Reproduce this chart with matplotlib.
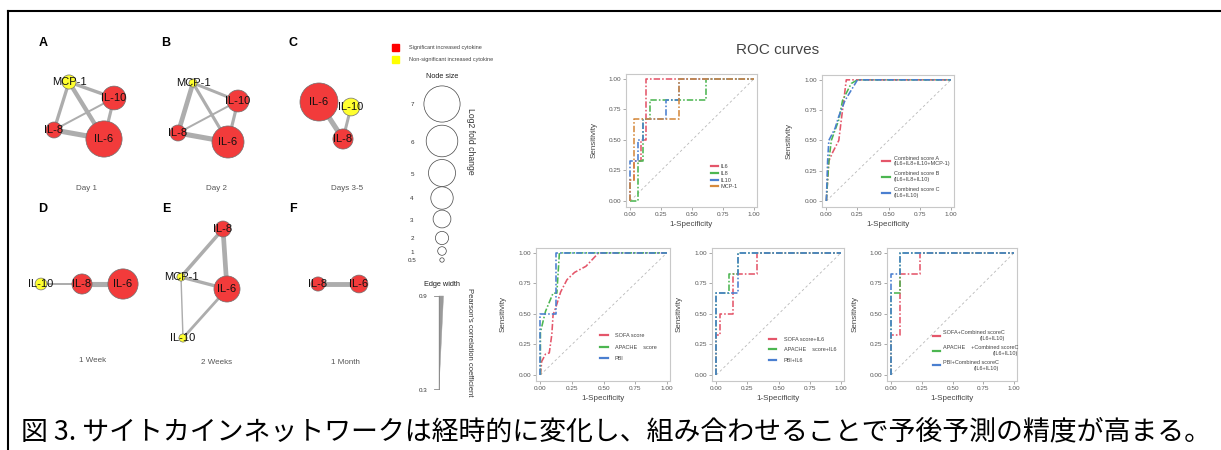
import matplotlib
matplotlib.use('Agg')
import matplotlib.pyplot as plt
from matplotlib.patches import Circle, Polygon, Rectangle
from matplotlib.lines import Line2D

plt.rcParams['font.family'] = ['Liberation Sans', 'DejaVu Sans']

# ---------------- data ----------------
panel_letters = ['A', 'B', 'C', 'D', 'E', 'F']
panel_titles = ['Day 1', 'Day 2', 'Days 3-5', '1 Week', '2 Weeks', '1 Month']

net_nodes = [
    ['MCP-1', 'IL-10', 'IL-8', 'IL-6'],
    ['MCP-1', 'IL-10', 'IL-8', 'IL-6'],
    ['IL-6', 'IL-10', 'IL-8'],
    ['IL-10', 'IL-8', 'IL-6'],
    ['IL-8', 'MCP-1', 'IL-6', 'IL-10'],
    ['IL-8', 'IL-6'],
]
net_log2fc = [
    [2.2, 4.3, 2.6, 7.0],
    [0.9, 3.9, 2.6, 6.1],
    [7.4, 3.0, 3.5],
    [1.7, 3.5, 5.7],
    [2.6, 0.9, 4.8, 0.9],
    [2.2, 3.0],
]
net_significant = [
    [False, True, True, True],
    [False, True, True, True],
    [True, False, True],
    [False, True, True],
    [True, False, True, False],
    [True, True],
]
net_edges = [
    [('MCP-1', 'IL-10', 0.63), ('MCP-1', 'IL-8', 0.62), ('MCP-1', 'IL-6', 0.75),
     ('IL-10', 'IL-8', 0.45), ('IL-10', 'IL-6', 0.60), ('IL-8', 'IL-6', 0.85)],
    [('MCP-1', 'IL-10', 0.58), ('MCP-1', 'IL-8', 0.80), ('MCP-1', 'IL-6', 0.60),
     ('IL-10', 'IL-8', 0.45), ('IL-10', 'IL-6', 0.60), ('IL-8', 'IL-6', 0.85)],
    [('IL-6', 'IL-8', 0.85), ('IL-10', 'IL-8', 0.58)],
    [('IL-10', 'IL-8', 0.45), ('IL-8', 'IL-6', 0.85)],
    [('IL-8', 'MCP-1', 0.65), ('IL-8', 'IL-6', 0.80), ('MCP-1', 'IL-6', 0.62),
     ('MCP-1', 'IL-10', 0.38), ('IL-10', 'IL-6', 0.55)],
    [('IL-8', 'IL-6', 0.82)],
]

legend_sizes = [7, 6, 5, 4, 3, 2, 1, 0.5]
legend_corr = [0.9, 0.3]

# ROC data
roc1_labels = ['IL6', 'IL8', 'IL10', 'MCP-1']
roc1_fpr = [
    [0, 0, 0.03, 0.03, 0.09, 0.09, 0.13, 0.13, 1],
    [0, 0.065, 0.065, 0.10, 0.10, 0.16, 0.16, 0.61, 0.61, 1],
    [0, 0, 0.06, 0.06, 0.10, 0.10, 0.29, 0.29, 0.39, 0.39, 1],
    [0, 0, 0.03, 0.03, 0.39, 0.39, 1],
]
roc1_tpr = [
    [0, 0.17, 0.17, 0.33, 0.33, 0.50, 0.50, 1, 1],
    [0, 0, 0.33, 0.33, 0.67, 0.67, 0.83, 0.83, 1, 1],
    [0, 0.33, 0.33, 0.50, 0.50, 0.67, 0.67, 0.83, 0.83, 1, 1],
    [0, 0.17, 0.17, 0.67, 0.67, 1, 1],
]

roc2_labels = ['Combined score A\n(IL6+IL8+IL10+MCP-1)',
               'Combined score B\n(IL6+IL8+IL10)',
               'Combined score C\n(IL6+IL10)']
roc2_fpr = [
    [0, 0.01, 0.02, 0.05, 0.10, 0.12, 0.14, 0.16, 0.20, 1],
    [0, 0.01, 0.02, 0.04, 0.10, 0.13, 0.20, 0.25, 1],
    [0, 0.005, 0.01, 0.02, 0.07, 0.10, 0.15, 0.25, 1],
]
roc2_tpr = [
    [0, 0.17, 0.33, 0.40, 0.50, 0.67, 0.83, 1, 1, 1],
    [0, 0.17, 0.33, 0.50, 0.67, 0.83, 0.97, 1, 1],
    [0, 0.17, 0.33, 0.50, 0.60, 0.70, 0.83, 1, 1],
]

roc3_labels = ['SOFA score', 'APACHE    score', 'PBI']
roc3_fpr = [
    [0, 0.01, 0.04, 0.07, 0.09, 0.10, 0.13, 0.16, 0.21, 0.27, 0.36, 0.46, 1],
    [0, 0, 0.04, 0.10, 0.13, 0.15, 1],
    [0, 0, 0.125, 0.125, 1],
]
roc3_tpr = [
    [0, 0.11, 0.17, 0.18, 0.33, 0.49, 0.58, 0.68, 0.78, 0.84, 0.89, 1, 1],
    [0, 0.35, 0.52, 0.67, 0.67, 1, 1],
    [0, 0.50, 0.50, 1, 1],
]

roc4_labels = ['SOFA score+IL6', 'APACHE    score+IL6', 'PBI+IL6']
roc4_fpr = [
    [0, 0, 0.03, 0.03, 0.13, 0.13, 0.33, 0.33, 1],
    [0, 0, 0.10, 0.10, 0.17, 0.17, 1],
    [0, 0, 0.17, 0.17, 1],
]
roc4_tpr = [
    [0, 0.33, 0.33, 0.50, 0.50, 0.83, 0.83, 1, 1],
    [0, 0.67, 0.67, 0.83, 0.83, 1, 1],
    [0, 0.67, 0.67, 1, 1],
]

roc5_labels = ['SOFA+Combined scoreC\n(IL6+IL10)',
               'APACHE    +Combined scoreC\n(IL6+IL10)',
               'PBI+Combined scoreC\n(IL6+IL10)']
roc5_fpr = [
    [0, 0, 0.07, 0.07, 0.23, 0.23, 1],
    [0, 0, 0.07, 0.07, 1],
    [0, 0, 0.07, 0.07, 1],
]
roc5_tpr = [
    [0, 0.33, 0.33, 0.83, 0.83, 1, 1],
    [0, 0.67, 0.67, 1, 1],
    [0, 0.83, 0.83, 1, 1],
]

caption = '図 3. サイトカインネットワークは経時的に変化し、組み合わせることで予後予測の精度が高まる。'

# ---------------- layout / styles ----------------
W, H = 1221, 450
fig = plt.figure(figsize=(W / 100, H / 100), dpi=100)
canvas = fig.add_axes([0, 0, 1, 1], zorder=0)
canvas.set_xlim(0, W)
canvas.set_ylim(H, 0)
canvas.axis('off')

# frame
canvas.plot([8, W], [11, 11], color='black', lw=1.5, clip_on=False)
canvas.plot([8, 8], [11, H], color='black', lw=1.5, clip_on=False)

net_layout = [
    {'MCP-1': (69, 82), 'IL-10': (114, 98), 'IL-8': (54, 130), 'IL-6': (104, 139)},
    {'MCP-1': (193, 83), 'IL-10': (238, 101), 'IL-8': (178, 133), 'IL-6': (228, 142)},
    {'IL-6': (319, 102), 'IL-10': (351, 107), 'IL-8': (343, 139)},
    {'IL-10': (41, 284), 'IL-8': (82, 284), 'IL-6': (123, 284)},
    {'IL-8': (223, 229), 'MCP-1': (181, 277), 'IL-6': (227, 289), 'IL-10': (183, 338)},
    {'IL-8': (318, 284), 'IL-6': (359, 284)},
]
letter_pos = [(43, 43), (166, 43), (293, 43), (43, 209), (166, 209), (293, 209)]
title_pos = [(87, 188), (216, 188), (347, 188), (93, 361), (217, 362), (345, 362)]

RED = '#f23b3b'
YEL = '#ffff2e'
EDGE = '#adadad'


def node_radius(v):
    return 2.0 + 2.3 * v


def edge_width_px(r):
    return 0.8 + 4.7 * (r - 0.3) / 0.6


for i in range(6):
    lay = net_layout[i]
    for a, b, r in net_edges[i]:
        (x1, y1), (x2, y2) = lay[a], lay[b]
        canvas.plot([x1, x2], [y1, y2], color=EDGE, lw=edge_width_px(r) * 0.72,
                    solid_capstyle='butt', zorder=1)
    for name, v, sig in zip(net_nodes[i], net_log2fc[i], net_significant[i]):
        x, y = lay[name]
        canvas.add_patch(Circle((x, y), node_radius(v), facecolor=RED if sig else YEL,
                                edgecolor='#707070', lw=0.5, zorder=2))
        canvas.text(x, y, name, ha='center', va='center', fontsize=8, color='#111111', zorder=3)
    canvas.text(*letter_pos[i], panel_letters[i], ha='center', va='center',
                fontsize=9, fontweight='bold', color='black')
    canvas.text(*title_pos[i], panel_titles[i], ha='center', va='center',
                fontsize=5.8, color='#555555')

# ----- network legends -----
canvas.add_patch(Rectangle((391.5, 43.5), 7, 7, color='#ff0000'))
canvas.add_patch(Rectangle((391.5, 55.5), 7, 7, color='#ffff00'))
canvas.text(409, 47, 'Significant increased cytokine', fontsize=4, color='#444444', va='center')
canvas.text(409, 59, 'Non-significant increased cytokine', fontsize=4, color='#444444', va='center')
canvas.text(442, 77, 'Node size', fontsize=5.3, color='#222222', ha='center', va='center')

legend_cy = [104, 141, 173, 198, 219, 238, 251, 260]
for v, cy in zip(legend_sizes, legend_cy):
    rr = node_radius(v) if v >= 1 else 2.2
    canvas.add_patch(Circle((442, cy), rr, facecolor='white', edgecolor='#444444', lw=0.5))
    canvas.text(412, cy + 1, f'{v:g}', fontsize=4.5, color='#333333', ha='center', va='center')
canvas.text(470, 141, 'Log2 fold change', fontsize=6.2, color='#333333', rotation=-90,
            ha='center', va='center')

canvas.text(442, 284, 'Edge width', fontsize=5.3, color='#222222', ha='center', va='center')
y_top, y_bot = 296, 389
canvas.add_patch(Polygon([(439, y_top), (443.5, y_top), (439, y_bot)],
                         closed=True, facecolor='#9a9a9a', edgecolor='#9a9a9a', lw=0.3))
canvas.plot([438.5, 438.5], [y_top, y_bot], color='#888888', lw=0.6)
canvas.plot([434, 438.5], [y_top, y_top], color='#888888', lw=0.6)
canvas.plot([434, 438.5], [y_bot, y_bot], color='#888888', lw=0.6)
canvas.text(423, y_top + 1, f'{legend_corr[0]:g}', fontsize=4.5, color='#333333', ha='center', va='center')
canvas.text(423, y_bot + 1, f'{legend_corr[1]:g}', fontsize=4.5, color='#333333', ha='center', va='center')
canvas.text(469, 342, "Pearson's correlation coefficient", fontsize=5.5, color='#333333',
            rotation=-90, ha='center', va='center')

# ----- ROC title -----
canvas.text(778, 50, 'ROC curves', fontsize=11, color='#444444', ha='center', va='center')

# ----- ROC panels -----
C_RED, C_GRN, C_BLU, C_ORG = '#e4566a', '#4cb651', '#4a7fd0', '#d58a3e'
DASHDOT = (0, (4, 1.3, 1, 1.3))


def px_rect(l, r, t, b):
    return [l / W, 1 - b / H, (r - l) / W, (b - t) / H]


def roc_panel(rect, fprs, tprs, labels, colors, anchor, lspace, hlen, htp, right_align=False):
    ax = fig.add_axes(rect, zorder=2)
    ax.plot([0, 1], [0, 1], color='#b8b8b8', lw=0.6, ls=(0, (3, 3)))
    for f, t, c in zip(fprs, tprs, colors):
        ax.plot(f, t, color=c, lw=1.15, ls=DASHDOT)
    ax.set_xlim(-0.035, 1.025)
    ax.set_ylim(-0.05, 1.04)
    ticks = [0, 0.25, 0.5, 0.75, 1.0]
    ax.set_xticks(ticks)
    ax.set_yticks(ticks)
    ax.set_xticklabels([f'{t:.2f}' for t in ticks])
    ax.set_yticklabels([f'{t:.2f}' for t in ticks])
    ax.tick_params(length=2, width=0.5, color='#888888', labelsize=4.6,
                   labelcolor='#555555', pad=1.5)
    for s in ax.spines.values():
        s.set_color('#c8c8c8')
        s.set_linewidth(0.8)
    ax.set_xlabel('1-Specificity', fontsize=5.8, color='#444444')
    ax.set_ylabel('Sensitivity', fontsize=5.8, color='#444444')
    ax.xaxis.set_label_coords(0.5, -0.105)
    ax.yaxis.set_label_coords(-0.22, 0.5)
    handles = [Line2D([], [], color=c, lw=1.6) for c in colors]
    leg = ax.legend(handles, labels, loc='upper left', bbox_to_anchor=anchor, frameon=False,
                    fontsize=4, borderpad=0, borderaxespad=0, labelspacing=lspace,
                    handlelength=hlen, handletextpad=htp, labelcolor='#444444')
    if right_align:
        for t in leg.get_texts():
            t.set_multialignment('right')
    return ax


roc_panel(px_rect(626, 757, 74, 207), roc1_fpr, roc1_tpr, roc1_labels,
          [C_RED, C_GRN, C_BLU, C_ORG], (0.65, 0.32), 0.3, 1.3, 0.4)
roc_panel(px_rect(822, 954, 75, 207), roc2_fpr, roc2_tpr, roc2_labels,
          [C_RED, C_GRN, C_BLU], (0.455, 0.39), 0.9, 1.5, 0.6)
roc_panel(px_rect(536, 670, 248, 381), roc3_fpr, roc3_tpr, roc3_labels,
          [C_RED, C_GRN, C_BLU], (0.478, 0.36), 1.15, 1.45, 1.2)
roc_panel(px_rect(712, 844, 248, 381), roc4_fpr, roc4_tpr, roc4_labels,
          [C_RED, C_GRN, C_BLU], (0.43, 0.33), 0.95, 1.3, 1.4)
roc_panel(px_rect(887, 1017, 248, 381), roc5_fpr, roc5_tpr, roc5_labels,
          [C_RED, C_GRN, C_BLU], (0.354, 0.38), 0.7, 1.3, 0.5, right_align=True)

# ----- caption -----
fig.text(21 / W, 1 - 432 / H, caption, fontsize=19.4, color='black', va='center', ha='left',
         family=['Noto Sans CJK JP', 'DejaVu Sans'])

fig.savefig('out.png', dpi=100)
